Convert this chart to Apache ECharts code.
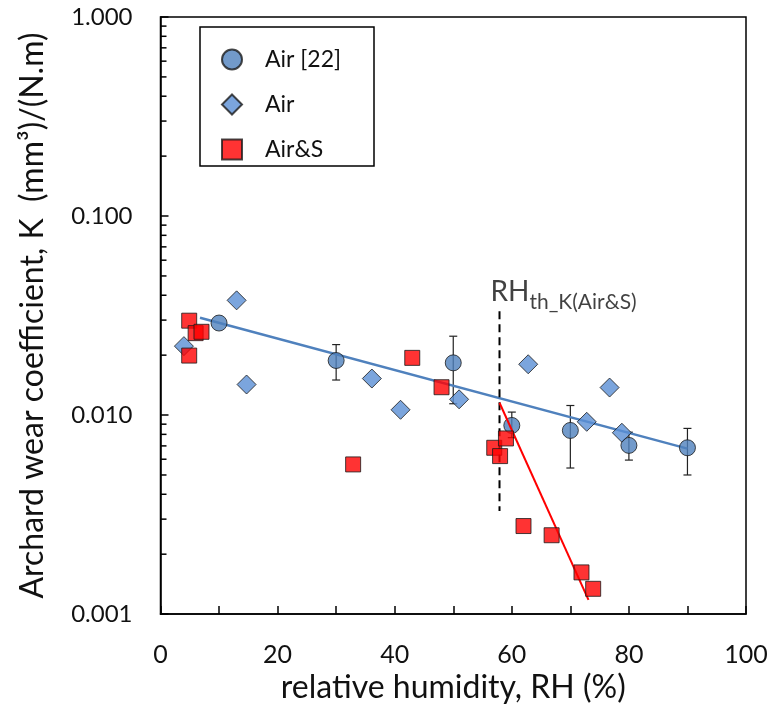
<!DOCTYPE html>
<html>
<head>
<meta charset="utf-8">
<script src="https://cdn.jsdelivr.net/npm/echarts@6/dist/echarts.min.js"></script>
<style>
  html, body { margin: 0; padding: 0; background: #fff; }
  #main { width: 771px; height: 709px; }
</style>
</head>
<body>
<div id="main"></div>
<script>
// Air [22] (circles)
const air22X = [10, 30, 50, 60, 70, 80, 90];
const air22K = [0.0290, 0.0188, 0.0183, 0.00887, 0.00837, 0.00704, 0.00685];
// error bars of Air [22]
const errX = [30, 50, 60, 70, 80, 90];
const errLow = [0.0150, 0.0114, 0.0077, 0.00542, 0.00594, 0.0050];
const errHigh = [0.0226, 0.0249, 0.01035, 0.01117, 0.0082, 0.00857];
// Air (diamonds)
const airX = [4, 13, 14.7, 36.1, 41, 51, 62.8, 72.8, 76.7, 78.8];
const airK = [0.0222, 0.0377, 0.01424, 0.01526, 0.01063, 0.0120, 0.0180, 0.00925, 0.01375, 0.00815];
// Air&S (squares)
const airSX = [4.9, 4.9, 6, 7, 32.9, 43, 48, 57, 58, 59, 62, 66.8, 71.9, 73.9];
const airSK = [0.0298, 0.0199, 0.0258, 0.0262, 0.00565, 0.01938, 0.0138, 0.00685, 0.00622, 0.00763, 0.00277, 0.00249, 0.00162, 0.00134];
// trend lines
const airFitX = [6.75, 90];
const airFitK = [0.0308, 0.00678];
const airSFitX = [57.9, 73.1];
const airSFitK = [0.01153, 0.001178];
// threshold marker
const rhTh = 57.9;
const thK = [0.0332, 0.0033];
// log minor ticks
const yMinorTicks = [0.002, 0.003, 0.004, 0.005, 0.006, 0.007, 0.008, 0.009,
  0.02, 0.03, 0.04, 0.05, 0.06, 0.07, 0.08, 0.09,
  0.2, 0.3, 0.4, 0.5, 0.6, 0.7, 0.8, 0.9];

const zip = (xs, ys) => xs.map((x, i) => [x, ys[i]]);

const chart = echarts.init(document.getElementById('main'));
chart.setOption({
  animation: false,
  backgroundColor: '#fff',
  grid: {
    left: 160.5, right: 25, top: 17, bottom: 94,
    show: true, borderColor: '#000', borderWidth: 1.5
  },
  legend: {
    orient: 'vertical',
    left: 216, top: 43,
    itemWidth: 20, itemHeight: 20, itemGap: 22,
    z: 10,
    data: [
      { name: 'Air [22]', icon: 'circle' },
      { name: 'Air', icon: 'diamond' },
      { name: 'Air&S', icon: 'rect' }
    ],
    textStyle: { fontFamily: 'Lato', fontSize: 23, lineHeight: 20, color: '#111', padding: [0, 0, 0, 18] }
  },
  graphic: [{
    type: 'rect', z: 5,
    shape: { x: 200, y: 27, width: 174, height: 139 },
    style: { fill: '#fff', stroke: '#000', lineWidth: 1.5 }
  }],
  xAxis: {
    type: 'value', min: 0, max: 100, interval: 10,
    name: 'relative humidity, RH (%)',
    nameLocation: 'middle', nameGap: 57,
    nameTextStyle: { fontFamily: 'Lato', fontSize: 32, color: '#111' },
    axisLine: { lineStyle: { color: '#000', width: 1.5 } },
    axisTick: { inside: true, length: 8, lineStyle: { color: '#000', width: 1.5 } },
    axisLabel: {
      margin: 28, fontFamily: 'Lato', fontSize: 25, color: '#111',
      formatter: v => (v % 20 === 0 ? String(v) : '')
    },
    splitLine: { show: false }
  },
  yAxis: {
    type: 'log', logBase: 10, min: 0.001, max: 1,
    name: 'Archard wear coefficient, K  (mm\u00b3)/(N.m)',
    nameLocation: 'middle', nameGap: 112,
    nameTextStyle: { fontFamily: 'Lato', fontSize: 32, color: '#111' },
    axisLine: { lineStyle: { color: '#000', width: 1.5 } },
    axisTick: { inside: true, length: 8, lineStyle: { color: '#000', width: 1.5 } },
    axisLabel: {
      margin: 28, fontFamily: 'Lato', fontSize: 24, color: '#111',
      formatter: v => Number(v).toFixed(3)
    },
    splitLine: { show: false }
  },
  series: [
    {
      type: 'custom', name: 'minorTicks', silent: true, z: 1,
      data: yMinorTicks.map(v => [0, v]),
      renderItem: (params, api) => {
        const p = api.coord([0, api.value(1)]);
        return {
          type: 'line',
          shape: { x1: p[0], y1: p[1], x2: p[0] + 6, y2: p[1] },
          style: { stroke: '#000', lineWidth: 1.5 }
        };
      }
    },
    {
      type: 'custom', name: 'errorBars', silent: true, z: 1,
      data: errX.map((x, i) => [x, errLow[i], errHigh[i]]),
      renderItem: (params, api) => {
        const lo = api.coord([api.value(0), api.value(1)]);
        const hi = api.coord([api.value(0), api.value(2)]);
        const st = { stroke: '#222', lineWidth: 1.2 };
        return {
          type: 'group',
          children: [
            { type: 'line', shape: { x1: lo[0], y1: lo[1], x2: hi[0], y2: hi[1] }, style: st },
            { type: 'line', shape: { x1: lo[0] - 4, y1: lo[1], x2: lo[0] + 4, y2: lo[1] }, style: st },
            { type: 'line', shape: { x1: hi[0] - 4, y1: hi[1], x2: hi[0] + 4, y2: hi[1] }, style: st }
          ]
        };
      }
    },
    {
      type: 'line', name: 'airFit', silent: true, z: 2,
      data: zip(airFitX, airFitK), symbol: 'none',
      lineStyle: { color: '#4F81BD', width: 2.5 }
    },
    {
      type: 'line', name: 'threshold', silent: true, z: 2,
      data: zip([rhTh, rhTh], thK), symbol: 'none',
      lineStyle: { color: '#000', width: 2, type: [8, 5] }
    },
    {
      type: 'scatter', name: 'Air [22]', z: 3,
      data: zip(air22X, air22K),
      symbol: 'circle', symbolSize: 16,
      itemStyle: { color: '#4F81BD', borderColor: '#1a1a1a', borderWidth: 1 }
    },
    {
      type: 'scatter', name: 'Air', z: 3,
      data: zip(airX, airK),
      symbol: 'diamond', symbolSize: 19,
      itemStyle: { color: '#5A8FD5', borderColor: '#1a1a1a', borderWidth: 1 }
    },
    {
      type: 'scatter', name: 'Air&S', z: 4,
      data: zip(airSX, airSK),
      symbol: 'rect', symbolSize: 15,
      itemStyle: { color: '#FF0000', borderColor: '#1a1a1a', borderWidth: 1 }
    },
    {
      type: 'line', name: 'airSFit', silent: true, z: 4,
      data: zip(airSFitX, airSFitK), symbol: 'none',
      lineStyle: { color: '#FF0000', width: 2 }
    },
    {
      type: 'scatter', name: 'thLabel', silent: true, z: 5,
      data: [[rhTh, thK[0]]], symbolSize: 0,
      label: {
        show: true, position: [-9, -19], align: 'left', verticalAlign: 'middle',
        formatter: '{a|RH}{b|th_K(Air&S)}',
        rich: {
          a: { fontFamily: 'Lato', fontSize: 28, color: '#111' },
          b: { fontFamily: 'Lato', fontSize: 21, color: '#111', padding: [20, 0, 0, 0] }
        }
      }
    }
  ]
});
</script>
</body>
</html>
